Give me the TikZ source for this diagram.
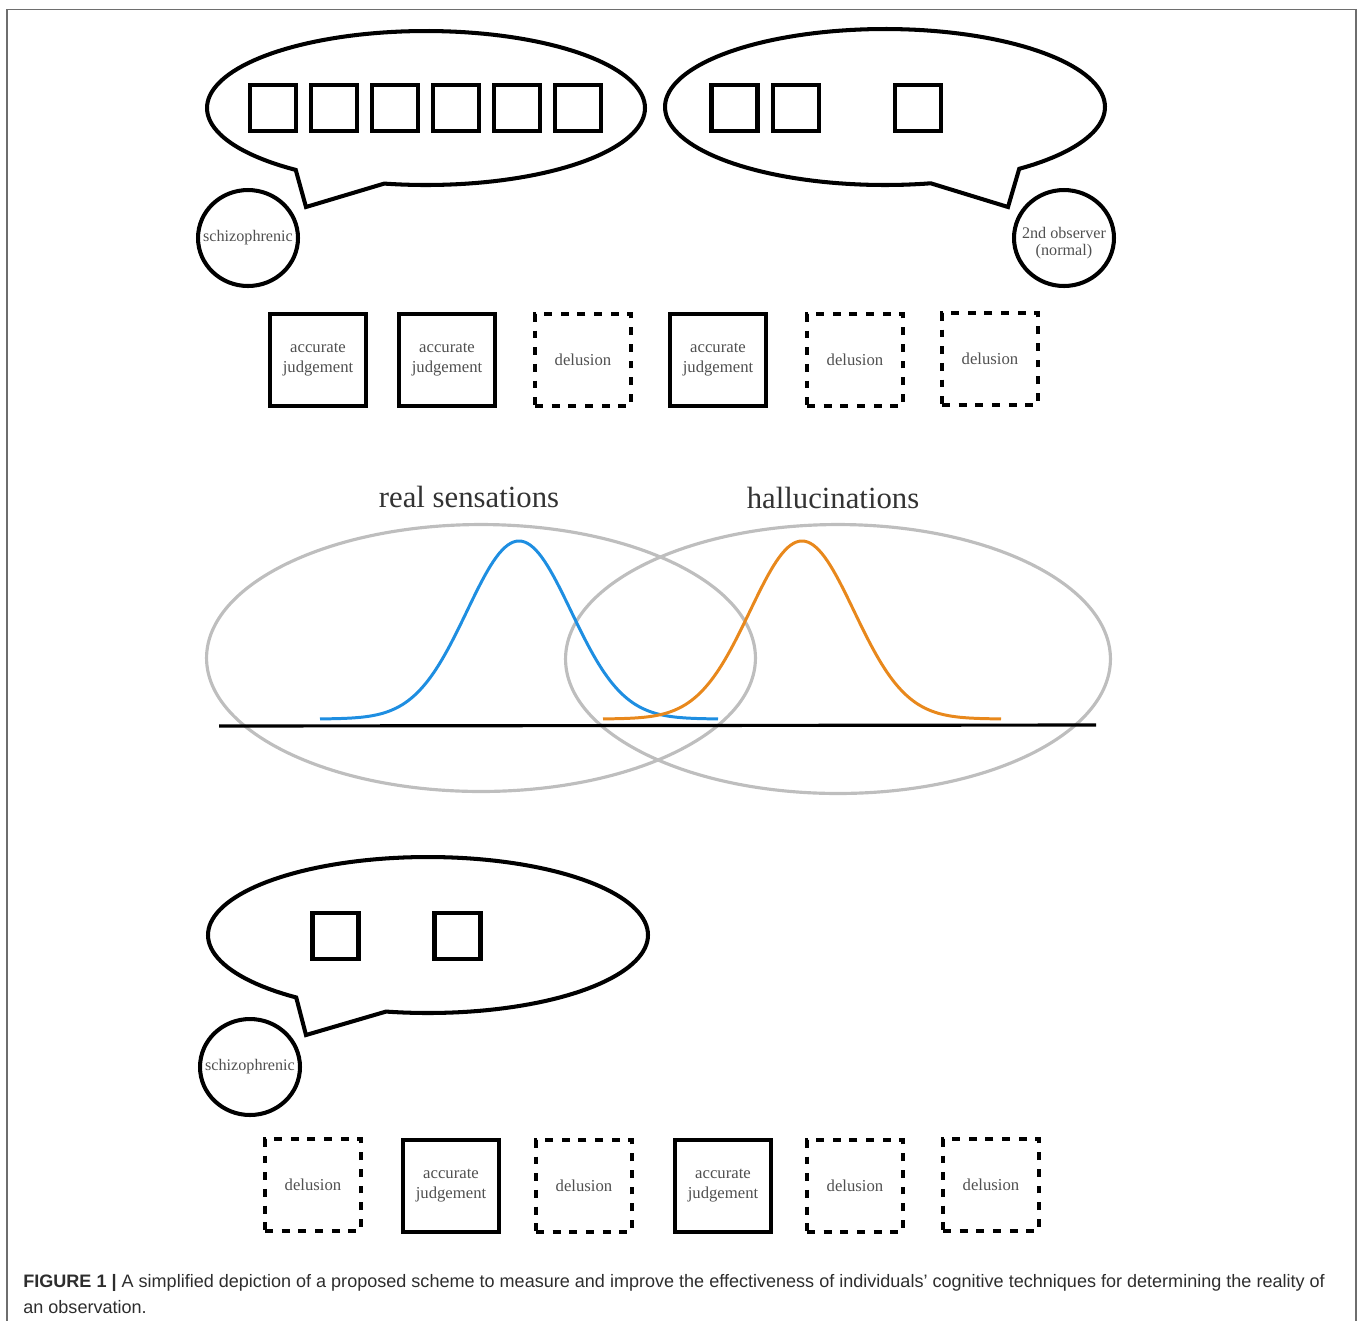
\documentclass[tikz,border=0pt]{standalone}
\usepackage{fontspec}
\setmainfont{Liberation Serif}
\newfontfamily\capfont{Liberation Sans}
\usetikzlibrary{shapes.geometric}
\definecolor{txtgray}{HTML}{505050}
\definecolor{curveblue}{RGB}{30,142,225}
\definecolor{curveorange}{RGB}{232,136,28}
\definecolor{ellgray}{RGB}{190,190,190}
\definecolor{framegray}{RGB}{110,110,110}
\definecolor{capgray}{RGB}{45,45,45}
\newcommand{\speechbubble}[8]{%
  \draw[bubble] plot[variable=\t, domain=#5:#6, samples=140] ({#1+#3*cos(\t)},{#2+#4*sin(\t)}) -- (#7,#8) -- cycle;}
\begin{document}
\begin{tikzpicture}[x=0.02cm,y=-0.02cm,
  bubble/.style={line width=2.3pt, line join=miter},
  sq/.style={draw, line width=2.3pt, minimum width=0.92cm, minimum height=0.92cm, inner sep=0pt},
  person/.style={draw, ellipse, line width=2.3pt, minimum width=2cm, minimum height=1.92cm, inner sep=0pt},
  ptext/.style={inner sep=0pt, align=center, font=\fontsize{9.2}{10}\selectfont, text=txtgray},
  judge/.style={draw, line width=2.4pt, minimum width=1.92cm, minimum height=1.84cm, inner sep=0pt, align=center, font=\fontsize{9.5}{11.3}\selectfont, text=txtgray},
  delus/.style={judge, dash pattern=on 4.5pt off 5pt},
  zone/.style={draw=ellgray, ellipse, line width=1.8pt, inner sep=0pt},
  zlabel/.style={font=\fontsize{17.5}{20}\selectfont, text=black!80},
  gauss/.style={line width=1.7pt},
  captext/.style={anchor=base west, inner sep=0pt, font=\capfont\fontsize{10.27}{12}\selectfont, text=capgray},
]
\useasboundingbox (0,0) rectangle (1360,1320);
\draw[framegray, line width=0.85pt] (7,1330) -- (7,9.5) -- (1356,9.5) -- (1356,1330);

% ---- top: speech bubbles
\speechbubble{426}{108}{219}{77}{126.5}{461}{306}{207}
\speechbubble{885}{107}{220}{78}{78}{412.4}{1008}{207}
\foreach \k in {0,...,5} {\node[sq] (a\k) at ({273+61*\k},108) {};}
\node[sq] (b1) at (734.5,108) {};
\node[sq] (b2) at (796,108) {};
\node[sq] (b3) at (918,108) {};
\node[person] (s1) at (248,238) {};
\node[ptext] (s1t) at (s1) {schizophrenic};
\node[person] (obs) at (1064,238) {};
\node[ptext] (obst) at (1064,243) {2nd observer\\(normal)};

% ---- row 1 of judgements
\node[judge] (r1a) at (318,360) {accurate\\judgement};
\node[judge] (r1b) at (447,360) {accurate\\judgement};
\node[delus] (r1c) at (583,360) {delusion};
\node[judge] (r1d) at (718,360) {accurate\\judgement};
\node[delus] (r1e) at (855,360) {delusion};
\node[delus] (r1f) at (990,359) {delusion};

% ---- middle: distributions
\node[zlabel] (lreal) at (469,497) {real sensations};
\node[zlabel] (lhall) at (833,498) {hallucinations};
\node[zone, minimum width=10.98cm, minimum height=5.34cm] (zreal) at (481,658) {};
\node[zone, minimum width=10.9cm, minimum height=5.38cm] (zhall) at (838,659) {};
\coordinate (axL) at (219,726);
\coordinate (axR) at (1096,725);
\draw[line width=1.8pt] (axL) -- (axR);
\draw[gauss, curveblue] plot[variable=\t, domain=-199:199, samples=141] ({519+\t},{719-178*exp(-0.5*(\t/52)*(\t/52))});
\draw[gauss, curveorange] plot[variable=\t, domain=-199:199, samples=141] ({802+\t},{719-178*exp(-0.5*(\t/52)*(\t/52))});

% ---- bottom bubble
\speechbubble{428}{935}{220}{78}{126.8}{461}{306}{1035}
\node[sq] (c1) at (335.5,936) {};
\node[sq] (c2) at (457.5,936) {};
\node[person] (s3) at (250,1067) {};
\node[ptext] (s3t) at (s3) {schizophrenic};

% ---- row 2 of judgements
\node[delus] (r2a) at (313,1185) {delusion};
\node[judge] (r2b) at (451,1186) {accurate\\judgement};
\node[delus] (r2c) at (584,1186) {delusion};
\node[judge] (r2d) at (723,1186) {accurate\\judgement};
\node[delus] (r2e) at (855,1186) {delusion};
\node[delus] (r2f) at (991,1185) {delusion};

% ---- caption
\node[captext] (cap1) at (23,1287) {\textbf{FIGURE 1 |} A simplified depiction of a proposed scheme to measure and improve the effectiveness of individuals’ cognitive techniques for determining the reality of};
\node[captext] (cap2) at (23,1313) {an observation.};
\end{tikzpicture}
\end{document}
